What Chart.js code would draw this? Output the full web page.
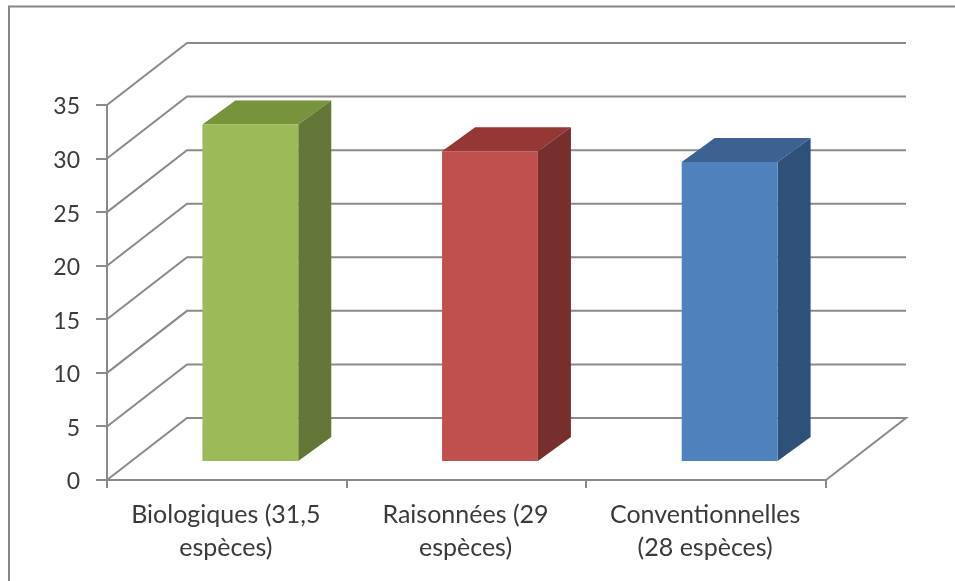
<!DOCTYPE html>
<html>
<head>
<meta charset="utf-8">
<style>
  html, body { margin: 0; padding: 0; background: #fff; overflow: hidden; }
  canvas { display: block; }
</style>
<script src="https://cdn.jsdelivr.net/npm/chart.js@4"></script>
</head>
<body>
<canvas id="bars" width="955" height="581"></canvas>
<script>
var categories = [["Biologiques (31,5", "espèces)"], ["Raisonnées (29", "espèces)"], ["Conventionnelles", "(28 espèces)"]];
var speciesCounts = [31.5, 29, 28];
var yTicks = [0, 5, 10, 15, 20, 25, 30, 35];

var frontColors = ['#9BBB59', '#C0504D', '#4F81BD'];
var topColors = ['#77933C', '#953735', '#3B6291'];
var sideColors = ['#637537', '#772F2D', '#2F5078'];

var lineColor = '#8A8A8A';
var textColor = '#3A3A3A';

// depth of the floor/back wall, and of the bars sitting in the middle of it
var wallDepth = { x: 80, y: -62 };
var barShift = { x: 23.5, y: -18 };
var barDepth = { x: 33, y: -24 };

function poly(ctx, pts, color) {
    ctx.fillStyle = color;
    ctx.beginPath();
    ctx.moveTo(pts[0][0], pts[0][1]);
    for (var i = 1; i < pts.length; i++) ctx.lineTo(pts[i][0], pts[i][1]);
    ctx.closePath();
    ctx.fill();
}

var box3d = {
    id: 'box3d',
    // outer frame
    beforeDraw: function (chart) {
        var ctx = chart.ctx;
        ctx.save();
        ctx.strokeStyle = '#868686';
        ctx.lineWidth = 2;
        ctx.beginPath();
        ctx.moveTo(9, 581);
        ctx.lineTo(9, 6.5);
        ctx.lineTo(955, 6.5);
        ctx.stroke();
        ctx.restore();
    },
    // side walls and back gridlines, then the side and top faces of the bars
    beforeDatasetsDraw: function (chart) {
        var ctx = chart.ctx;
        var area = chart.chartArea;
        var y = chart.scales.y;
        ctx.save();
        ctx.strokeStyle = lineColor;
        ctx.lineWidth = 2;
        yTicks.forEach(function (v) {
            var py = y.getPixelForValue(v);
            ctx.beginPath();
            ctx.moveTo(area.left, py);
            ctx.lineTo(area.left + wallDepth.x, py + wallDepth.y);
            ctx.lineTo(area.right + wallDepth.x, py + wallDepth.y);
            if (v === 0) ctx.lineTo(area.right, py);
            ctx.stroke();
        });
        chart.getDatasetMeta(0).data.forEach(function (bar, i) {
            var half = bar.width / 2;
            var l = bar.x - half + barShift.x;
            var r = bar.x + half + barShift.x;
            var t = bar.y + barShift.y;
            var b = bar.base + barShift.y;
            poly(ctx, [[l, t], [r, t], [r + barDepth.x, t + barDepth.y], [l + barDepth.x, t + barDepth.y]], topColors[i]);
            poly(ctx, [[r, t], [r + barDepth.x, t + barDepth.y], [r + barDepth.x, b + barDepth.y], [r, b]], sideColors[i]);
        });
        ctx.restore();
    },
    // front faces are the library's own bars, pushed into the depth
    beforeDatasetDraw: function (chart) {
        chart.ctx.save();
        chart.ctx.translate(barShift.x, barShift.y);
    },
    afterDatasetDraw: function (chart) {
        chart.ctx.restore();
    }
};

var ctx = document.getElementById('bars').getContext('2d');

var chart = new Chart(ctx, {
    type: 'bar',
    data: {
        labels: categories,
        datasets: [{
            data: speciesCounts,
            backgroundColor: frontColors,
            borderWidth: 0,
            barPercentage: 0.4,
            categoryPercentage: 1,
            clip: false
        }]
    },
    options: {
        responsive: false,
        animation: false,
        layout: { padding: { top: 105, right: 129, left: 0, bottom: 0 } },
        plugins: { legend: { display: false }, tooltip: { enabled: false } },
        scales: {
            x: {
                afterFit: function (axis) { axis.height = 101; },
                border: { color: lineColor, width: 2 },
                grid: { drawOnChartArea: false, color: lineColor, lineWidth: 2, tickLength: 8 },
                ticks: {
                    color: textColor,
                    padding: 11,
                    maxRotation: 0,
                    labelOffset: -1,
                    font: { family: 'Lato', size: 25, lineHeight: 1.3 }
                }
            },
            y: {
                min: 0,
                max: 35,
                afterFit: function (axis) { axis.width = 107; },
                afterBuildTicks: function (axis) {
                    axis.ticks = yTicks.map(function (v) { return { value: v }; });
                },
                border: { color: lineColor, width: 2 },
                grid: { drawOnChartArea: false, color: lineColor, lineWidth: 2, tickLength: 11 },
                ticks: {
                    color: textColor,
                    padding: 16,
                    labelOffset: 2,
                    font: { family: 'Lato', size: 23 }
                }
            }
        }
    },
    plugins: [box3d]
});
</script>
</body>
</html>
